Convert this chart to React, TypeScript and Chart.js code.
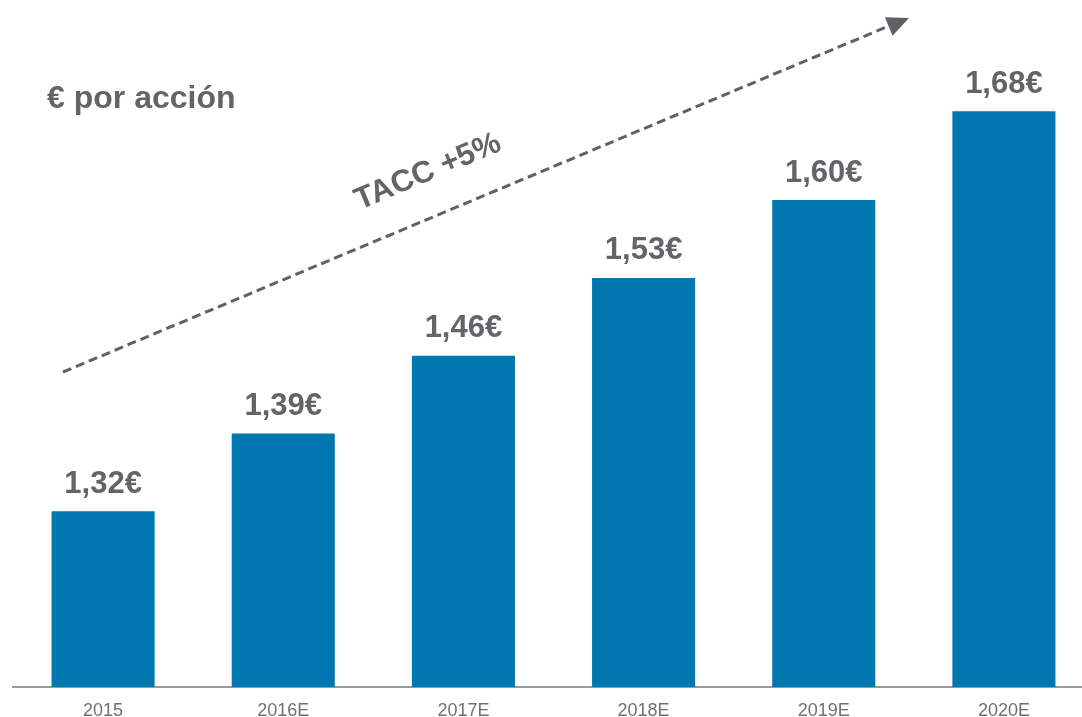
import React, { useEffect, useRef } from "react";
import { Chart, registerables } from "chart.js";

Chart.register(...registerables);

const categories = ["2015", "2016E", "2017E", "2018E", "2019E", "2020E"];
const values = [1.32, 1.39, 1.46, 1.53, 1.6, 1.68];
const valueLabels = ["1,32€", "1,39€", "1,46€", "1,53€", "1,60€", "1,68€"];
const title = "€ por acción";
const trendLabel = "TACC +5%";

const BAR_COLOR = "#0077AE";
const TEXT_GRAY = "#626467";
const FONT = "'Liberation Sans', Arial, sans-serif";

const overlayPlugin = {
  id: "overlay",
  afterDatasetsDraw(chart: any) {
    const ctx = chart.ctx;
    const meta = chart.getDatasetMeta(0);
    ctx.save();
    // value labels
    ctx.fillStyle = TEXT_GRAY;
    ctx.font = `bold 31px ${FONT}`;
    ctx.textAlign = "center";
    ctx.textBaseline = "middle";
    meta.data.forEach((bar: any, i: number) => {
      ctx.fillText(valueLabels[i], bar.x, bar.y - 27);
    });
    // title
    ctx.textAlign = "left";
    ctx.font = `bold 32px ${FONT}`;
    ctx.fillText(title, 47, 99);
    // trend arrow
    const x0 = 63, y0 = 372, x1 = 896, y1 = 23;
    ctx.strokeStyle = "#5f6164";
    ctx.lineWidth = 3;
    ctx.setLineDash([9, 5]);
    ctx.beginPath();
    ctx.moveTo(x0, y0);
    ctx.lineTo(x1, y1);
    ctx.stroke();
    ctx.setLineDash([]);
    const ang = Math.atan2(y1 - y0, x1 - x0);
    const tipX = 909, tipY = 18;
    ctx.fillStyle = "#5f6164";
    ctx.beginPath();
    ctx.moveTo(tipX, tipY);
    ctx.lineTo(tipX - 22 * Math.cos(ang) + 10 * Math.sin(ang), tipY - 22 * Math.sin(ang) - 10 * Math.cos(ang));
    ctx.lineTo(tipX - 22 * Math.cos(ang) - 10 * Math.sin(ang), tipY - 22 * Math.sin(ang) + 10 * Math.cos(ang));
    ctx.closePath();
    ctx.fill();
    // trend text
    ctx.translate(428, 172);
    ctx.rotate(ang);
    ctx.fillStyle = TEXT_GRAY;
    ctx.font = `bold 31px ${FONT}`;
    ctx.textAlign = "center";
    ctx.textBaseline = "middle";
    ctx.fillText(trendLabel, 0, 0);
    ctx.restore();
  },
};

export default function App() {
  const ref = useRef<HTMLCanvasElement>(null);
  useEffect(() => {
    document.body.style.margin = "0";
    document.body.style.overflow = "hidden";
    const chart = new Chart(ref.current!, {
      type: "bar",
      data: {
        labels: categories,
        datasets: [
          {
            data: values,
            backgroundColor: BAR_COLOR,
            barPercentage: 0.572,
            categoryPercentage: 1,
          },
        ],
      },
      options: {
        animation: false,
        responsive: false,
        maintainAspectRatio: false,
        layout: { padding: { left: 13, right: 6, top: 0, bottom: 0 } },
        plugins: { legend: { display: false }, tooltip: { enabled: false } },
        scales: {
          x: {
            grid: { display: false, drawTicks: false },
            border: { display: true, color: "#9a9a9a", width: 2 },
            ticks: {
              color: "#707070",
              font: { family: FONT, size: 18 },
              padding: 13,
            },
            afterFit: (scale: any) => {
              scale.height = 30;
            },
          },
          y: {
            display: false,
            min: 1.162,
            max: 1.78,
          },
        },
      },
      plugins: [overlayPlugin],
    });
    return () => chart.destroy();
  }, []);
  return (
    <div style={{ position: "fixed", left: 0, top: 0, width: 1082, height: 717, overflow: "hidden", background: "#fff" }}>
      <canvas ref={ref} width={1100} height={717} style={{ width: 1100, height: 717 }} />
    </div>
  );
}
